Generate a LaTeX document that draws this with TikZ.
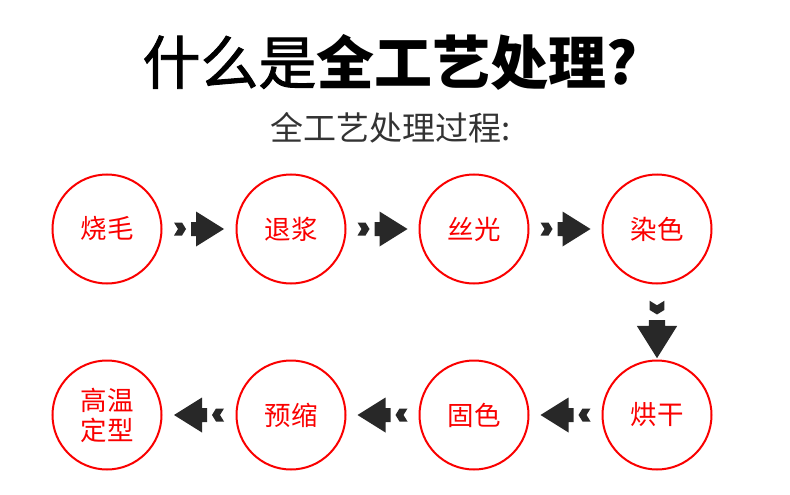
\documentclass[tikz,border=0pt]{standalone}
\usepackage{fontspec}
\newfontfamily\cjk{Noto Sans CJK SC}
\newfontfamily\cjkmed[FakeBold=1.6]{Noto Sans CJK SC}
\usetikzlibrary{calc}
\definecolor{cred}{RGB}{250,0,0}
\definecolor{adark}{RGB}{40,40,40}
\tikzset{
  stage/.style={circle, draw=cred, line width=2pt, minimum size=109pt, inner sep=0pt,
    text=cred, font=\cjk\fontsize{26.5}{30}\selectfont, align=center},
  flowarrow/.pic={
    \fill[adark] (-25,-6.5) -- (-17,-6.5) -- (-13,0) -- (-17,6.5) -- (-25,6.5) -- (-21,0) -- cycle;
    \fill[adark] (-8,-7) -- (-3,-7) -- (-3,-17.5) -- (25,0) -- (-3,17.5) -- (-3,7) -- (-8,7) -- cycle;
  }
}
\begin{document}
\begin{tikzpicture}[x=1pt,y=-1pt]
\useasboundingbox[fill=white] (0,0) rectangle (790,495);
\node[font=\fontsize{58}{62}\selectfont, inner sep=0pt] (title) at (390,62) {{\cjkmed 什么是}{\cjk\bfseries 全工艺处理?}};
\node[font=\cjk\fontsize{33}{36}\selectfont, text=black!80] (sub) at (391,128) {全工艺处理过程:};
\node[stage] (c1) at (107,229) {烧毛};
\node[stage] (c2) at (291,229) {退浆};
\node[stage] (c3) at (474,229) {丝光};
\node[stage] (c4) at (657,229) {染色};
\node[stage] (c5) at (657,415) {烘干};
\node[stage] (c6) at (474,415) {固色};
\node[stage] (c7) at (291,415) {预缩};
\node[stage] (c8) at (107,415) {高温\\定型};
\coordinate (a1) at ($(c1)!0.5!(c2)$);
\coordinate (a2) at ($(c2)!0.5!(c3)$);
\coordinate (a3) at ($(c3)!0.5!(c4)$);
\coordinate (a4) at ($(c4)!0.54!(c5)$);
\coordinate (a5) at ($(c5)!0.5!(c6)$);
\coordinate (a6) at ($(c6)!0.5!(c7)$);
\coordinate (a7) at ($(c7)!0.5!(c8)$);
\pic at (a1) {flowarrow};
\pic at (a2) {flowarrow};
\pic at (a3) {flowarrow};
\pic[rotate=-90, scale=1.15] at (a4) {flowarrow};
\pic[rotate=180] at (a5) {flowarrow};
\pic[rotate=180] at (a6) {flowarrow};
\pic[rotate=180] at (a7) {flowarrow};
\end{tikzpicture}
\end{document}
